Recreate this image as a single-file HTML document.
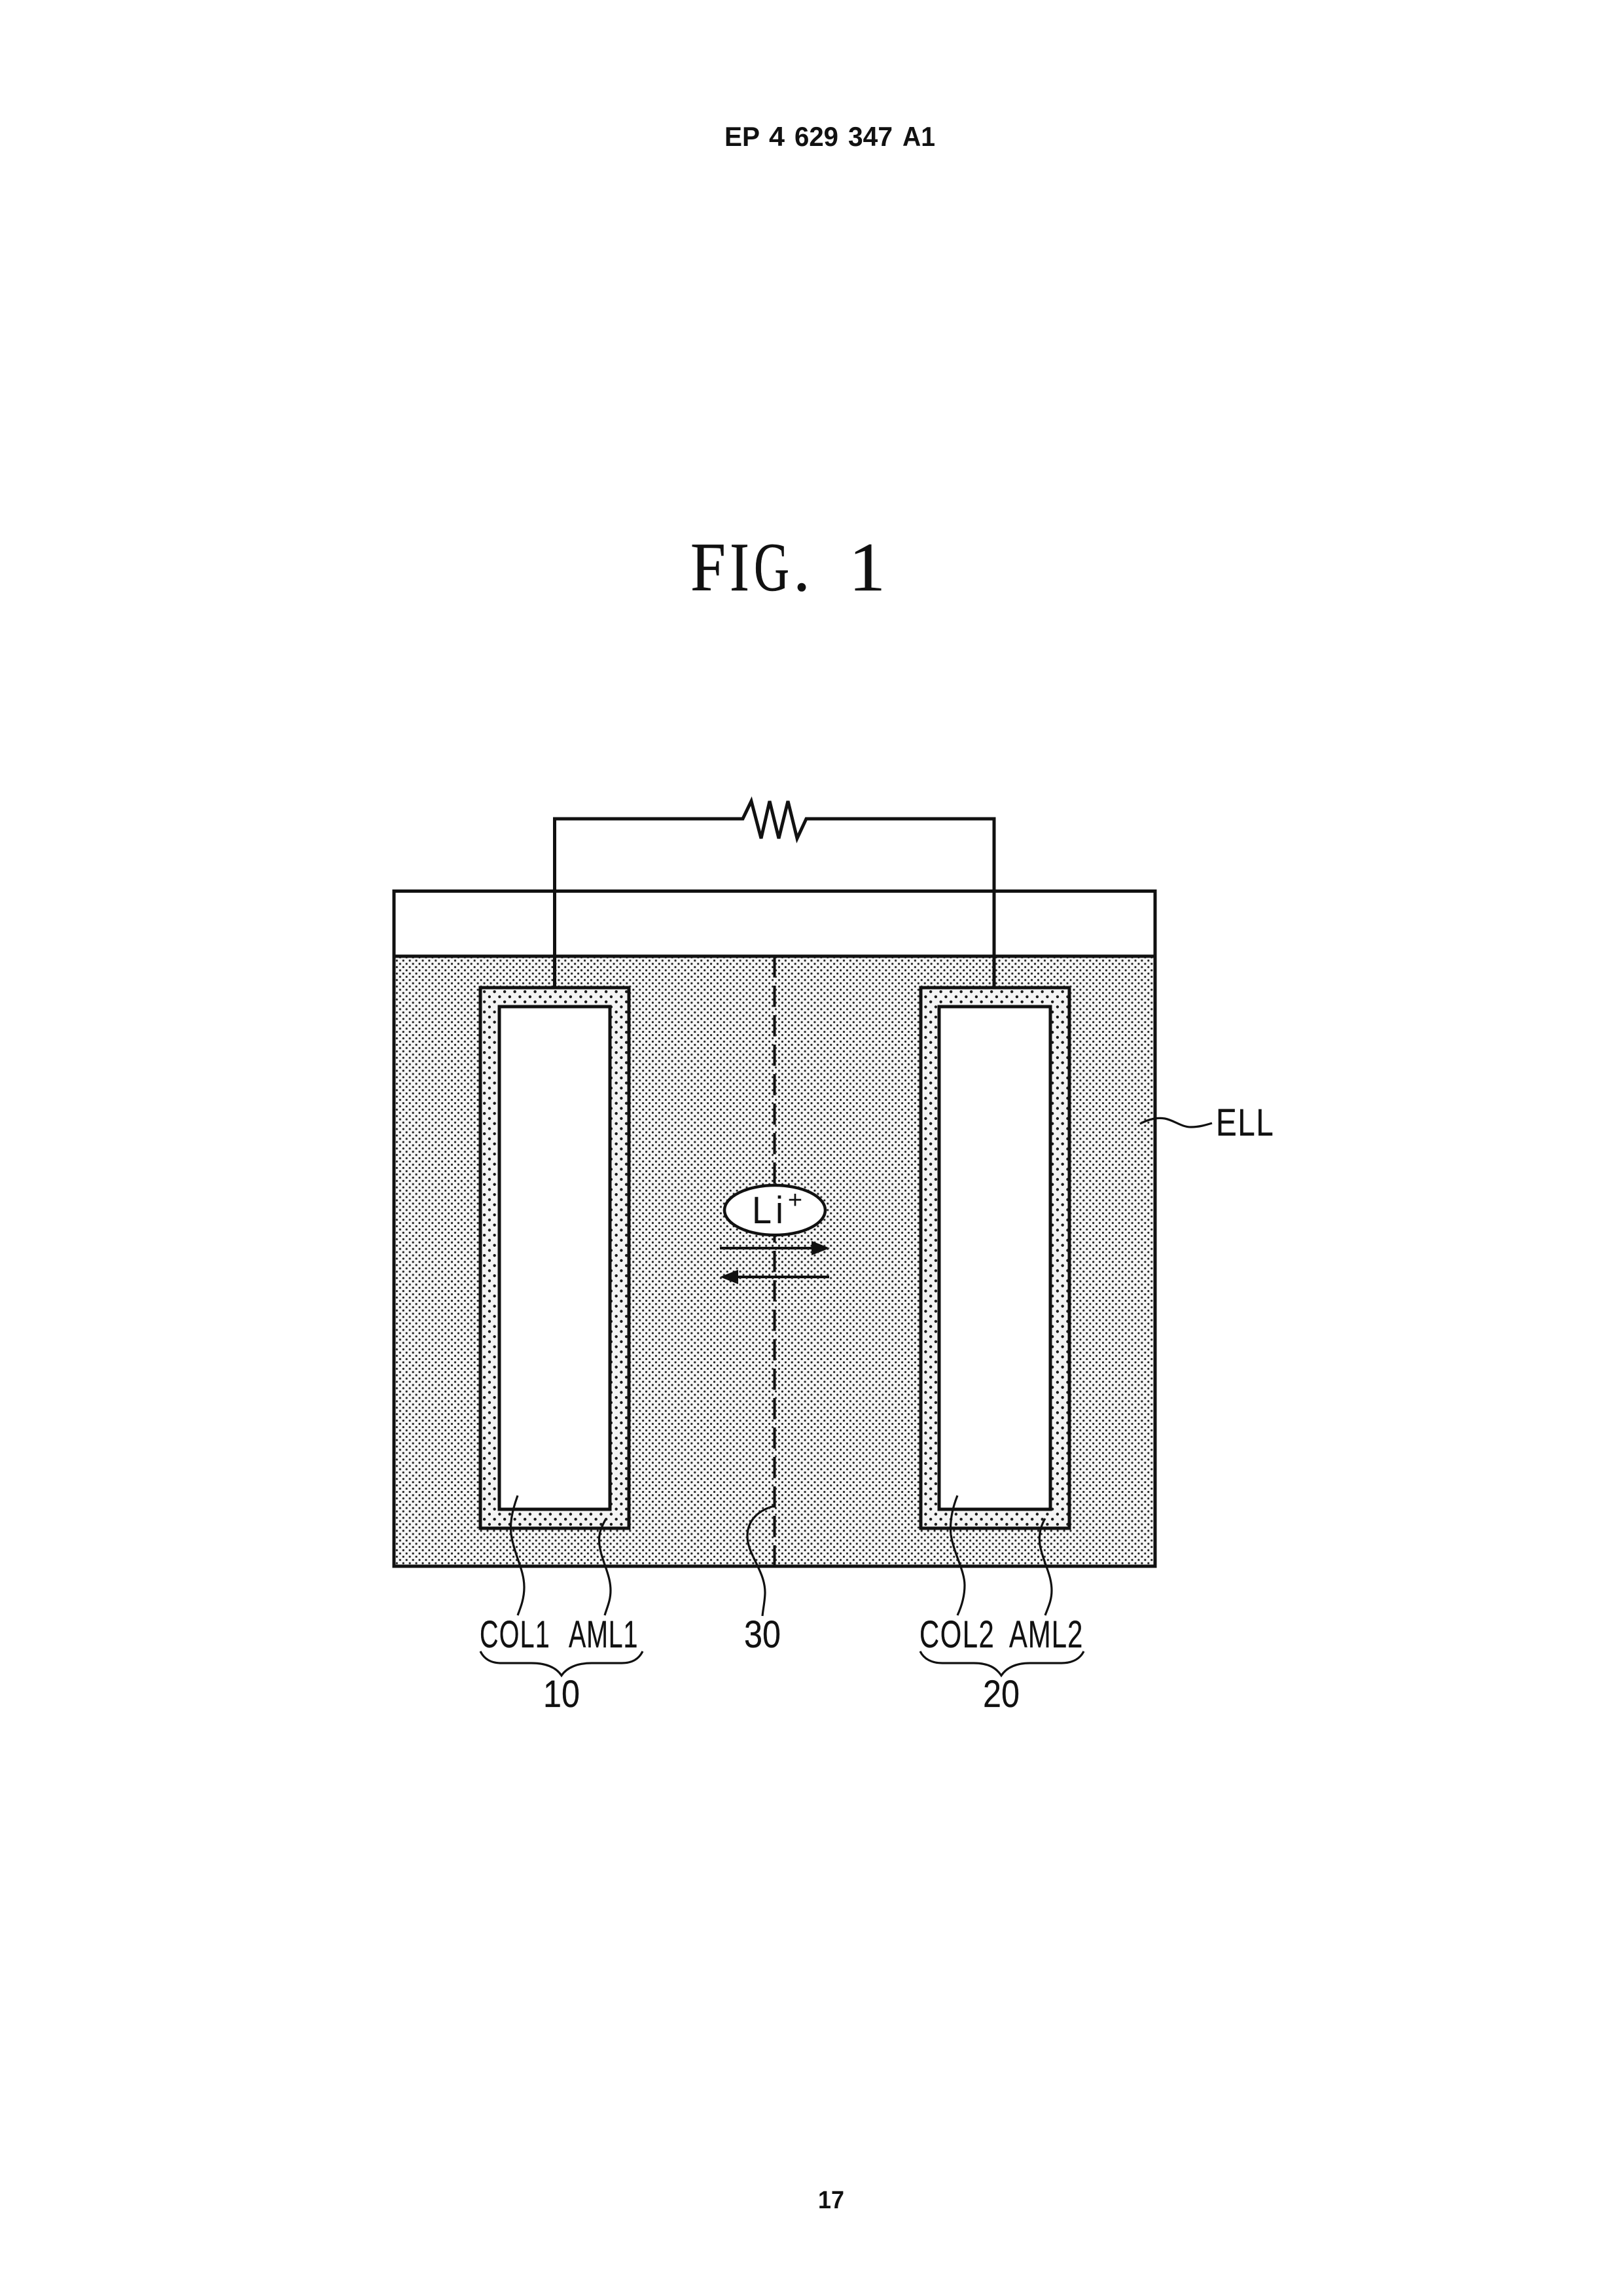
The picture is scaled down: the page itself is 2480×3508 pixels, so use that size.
<!DOCTYPE html>
<html><head><meta charset="utf-8"><title>EP 4 629 347 A1 FIG. 1</title>
<style>html,body{margin:0;padding:0;background:#fff}svg{display:block}
text{font-family:"Liberation Sans",sans-serif;fill:#111}
.s{font-family:"Liberation Serif",serif;stroke:#111;stroke-width:.5}
.l{stroke:#111;stroke-width:.3}</style></head>
<body>
<svg width="2480" height="3508" viewBox="0 0 2480 3508" xmlns="http://www.w3.org/2000/svg">
<defs>
<pattern id="fine" width="9.9" height="9.9" patternUnits="userSpaceOnUse">
<rect width="9.9" height="9.9" fill="#f6f6f6"/>
<circle cx="2.5" cy="2.5" r="1.6" fill="#222"/><circle cx="7.45" cy="7.45" r="1.6" fill="#222"/>
</pattern>
<pattern id="coarse" width="15.5" height="15.5" patternUnits="userSpaceOnUse">
<rect width="15.5" height="15.5" fill="#f4f4f4"/>
<circle cx="3.9" cy="3.9" r="2.2" fill="#1a1a1a"/><circle cx="11.65" cy="11.65" r="2.2" fill="#1a1a1a"/>
</pattern>
</defs>
<rect width="2480" height="3508" fill="#fff"/>

<g font-size="42" font-weight="700">
<text x="1107" y="223" textLength="54" lengthAdjust="spacingAndGlyphs">EP</text>
<text x="1175" y="223" textLength="24" lengthAdjust="spacingAndGlyphs">4</text>
<text x="1214" y="223" textLength="67" lengthAdjust="spacingAndGlyphs">629</text>
<text x="1296" y="223" textLength="68" lengthAdjust="spacingAndGlyphs">347</text>
<text x="1379" y="223" textLength="50" lengthAdjust="spacingAndGlyphs">A1</text>
</g>
<text x="1250" y="3374" font-size="38" font-weight="700" textLength="40" lengthAdjust="spacingAndGlyphs">17</text>

<g font-size="106">
<text class="s" x="1055" y="902" textLength="54" lengthAdjust="spacingAndGlyphs">F</text>
<text class="s" x="1115" y="902" textLength="30" lengthAdjust="spacingAndGlyphs">I</text>
<text class="s" x="1152" y="902" textLength="54" lengthAdjust="spacingAndGlyphs">G</text>
<text class="s" x="1212" y="902" textLength="26" lengthAdjust="spacingAndGlyphs">.</text>
<text class="s" x="1297" y="902" textLength="56" lengthAdjust="spacingAndGlyphs">1</text>
</g>

<!-- electrolyte and case -->
<rect x="602" y="1461" width="1163" height="932" fill="url(#fine)"/>
<rect x="602" y="1361.5" width="1163" height="1031.5" fill="none" stroke="#111" stroke-width="5"/>
<line x1="602" y1="1461" x2="1765" y2="1461" stroke="#111" stroke-width="5"/>

<!-- separator -->
<line x1="1183.5" y1="1461" x2="1183.5" y2="2393" stroke="#111" stroke-width="4" stroke-dasharray="32.5 12.5"/>

<!-- electrodes -->
<rect x="734" y="1509" width="227" height="826" fill="url(#coarse)" stroke="#111" stroke-width="5"/>
<rect x="763" y="1538" width="169" height="768" fill="#fff" stroke="#111" stroke-width="5"/>
<rect x="1407" y="1509" width="227" height="826" fill="url(#coarse)" stroke="#111" stroke-width="5"/>
<rect x="1435" y="1538" width="170" height="768" fill="#fff" stroke="#111" stroke-width="5"/>

<!-- circuit -->
<path d="M847.5 1509V1251H1135L1148 1224L1163 1281L1176 1224L1190 1281L1204 1224L1218 1281L1232 1251H1519V1509" fill="none" stroke="#111" stroke-width="5" stroke-linejoin="miter"/>

<!-- Li ion -->
<ellipse cx="1184" cy="1849" rx="77" ry="38" fill="#fff" stroke="#111" stroke-width="4.5"/>
<text x="1149" y="1869" font-size="58" textLength="30" lengthAdjust="spacingAndGlyphs">L</text>
<text x="1185" y="1869" font-size="58" textLength="12" lengthAdjust="spacingAndGlyphs">i</text>
<text x="1215" y="1846" font-size="38" text-anchor="middle">+</text>
<line x1="1100" y1="1907" x2="1245" y2="1907" stroke="#111" stroke-width="4"/>
<path d="M1268 1907L1240 1896V1918Z" fill="#111"/>
<line x1="1125" y1="1951" x2="1267" y2="1951" stroke="#111" stroke-width="4"/>
<path d="M1100 1951L1128 1940V1962Z" fill="#111"/>

<!-- leaders -->
<g fill="none" stroke="#111" stroke-width="3.2">
<path d="M791 2285C782 2310 778 2330 782 2350C788 2380 801 2400 801 2425C801 2442 796 2455 791 2468"/>
<path d="M925 2322C918 2335 914 2345 916 2360C919 2385 933 2405 933 2430C933 2445 928 2455 924 2468"/>
<path d="M1183 2301C1160 2307 1142 2322 1142 2347C1142 2375 1169 2400 1169 2433C1169 2445 1166 2458 1165 2469"/>
<path d="M1463 2285C1455 2305 1451 2325 1453 2345C1458 2375 1474 2400 1474 2422C1474 2440 1469 2455 1463 2468"/>
<path d="M1597 2320C1590 2332 1587 2345 1589 2360C1593 2385 1607 2405 1607 2430C1607 2445 1602 2455 1597 2468"/>
<path d="M1742 1717C1755 1710 1768 1707 1780 1709C1795 1712 1805 1722 1820 1722C1832 1722 1842 1719 1852 1716"/>
<path d="M734 2523C740 2535 750 2541 766 2541H812C835 2541 850 2548 858 2560C866 2548 882 2541 904 2541H950C966 2541 976 2535 982 2523"/>
<path d="M1406 2523C1412 2535 1424 2541 1440 2541H1488C1510 2541 1522 2548 1530 2560C1538 2548 1552 2541 1574 2541H1622C1638 2541 1650 2535 1656 2523"/>
</g>

<!-- labels -->
<g font-size="58">
<text class="l" transform="translate(1858 1735) scale(.82 1)" x="0" y="0" textLength="107" lengthAdjust="spacing">ELL</text>
<text class="l" transform="translate(733 2517) scale(.68 1)" x="0" y="0" textLength="157" lengthAdjust="spacing">COL1</text>
<text class="l" transform="translate(869 2517) scale(.68 1)" x="0" y="0" textLength="155" lengthAdjust="spacing">AML1</text>
<text class="l" x="1137" y="2517" textLength="56" lengthAdjust="spacingAndGlyphs">30</text>
<text class="l" transform="translate(1405 2517) scale(.72 1)" x="0" y="0" textLength="158" lengthAdjust="spacing">COL2</text>
<text class="l" transform="translate(1542 2517) scale(.72 1)" x="0" y="0" textLength="156" lengthAdjust="spacing">AML2</text>
<text class="l" x="830" y="2608" textLength="56" lengthAdjust="spacingAndGlyphs">10</text>
<text class="l" x="1502" y="2608" textLength="56" lengthAdjust="spacingAndGlyphs">20</text>
</g>
</svg>
</body></html>
